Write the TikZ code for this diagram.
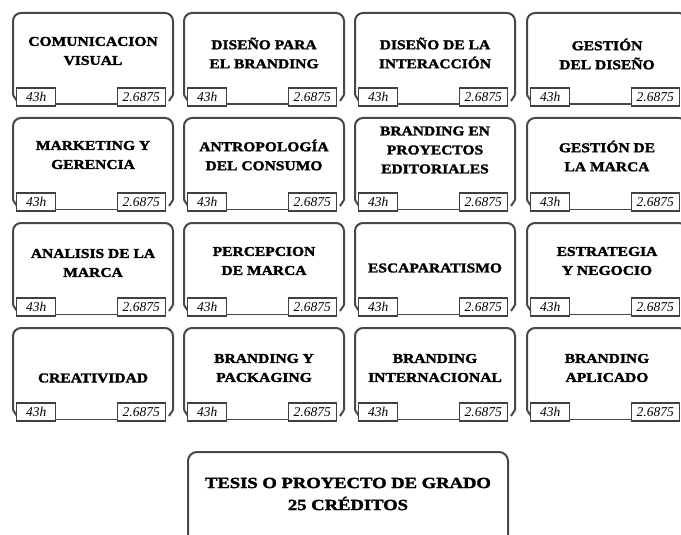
\documentclass[tikz,border=0pt]{standalone}
\usepackage{fontspec}
\setmainfont{Liberation Serif}
\newfontfamily\titlefont[FakeStretch=1.15,FakeBold=2]{Liberation Serif}
\newfontfamily\tesisfont[FakeStretch=1.2,FakeBold=2]{Liberation Serif}
\tikzset{
  outline/.style={draw=black!72,line width=2pt},
  bline/.style={draw=black!72,line width=1.4pt},
  smallbox/.style={draw=black!75,line width=1.4pt,fill=white,inner sep=0pt,
    minimum height=18pt,font=\fontsize{13.5}{13.5}\selectfont\itshape},
  hbox/.style={smallbox,minimum width=39pt,anchor=west},
  cbox/.style={smallbox,minimum width=48pt,anchor=east},
  title/.style={align=center,inner sep=0pt,
    font=\titlefont\bfseries\fontsize{13.5}{19}\selectfont},
}
\newcommand\course[5]{%
  \draw[outline,rounded corners=8pt] ({#1},{#2+82}) -- ({#1},{#2}) -- ({#1+160},{#2}) -- ({#1+160},{#2+82});
  \draw[outline] ({#1},{#2+82}) -- ({#1+4},{#2+88});
  \draw[outline] ({#1+160},{#2+82}) -- ({#1+156},{#2+88});
  \node[hbox] (#3h) at ({#1+3},{#2+84}) {43h};
  \node[cbox] (#3c) at ({#1+153},{#2+84}) {2.6875};
  \draw[bline] ([yshift=2.5pt]#3h.south east) -- ([yshift=2.5pt]#3c.south west);
  \node[title] (#3) at ({#1+80},{#2+#5}) {#4};
}
\begin{document}
\begin{tikzpicture}[x=1pt,y=-1pt]
\useasboundingbox (0,0) rectangle (681,535);
\begin{scope}
\clip (0,0) rectangle (681,535);
% row 1
\course{13}{13}{a1}{COMUNICACION\\VISUAL}{38}
\course{184}{13}{a2}{DISEÑO PARA\\EL BRANDING}{40}
\course{355}{13}{a3}{DISEÑO DE LA\\INTERACCIÓN}{40}
\course{527}{13}{a4}{GESTIÓN\\DEL DISEÑO}{41}
% row 2
\course{13}{118}{b1}{MARKETING Y\\GERENCIA}{37}
\course{184}{118}{b2}{ANTROPOLOGÍA\\DEL CONSUMO}{37}
\course{355}{118}{b3}{BRANDING EN\\PROYECTOS\\EDITORIALES}{32}
\course{527}{118}{b4}{GESTIÓN DE\\LA MARCA}{38}
% row 3
\course{13}{223}{c1}{ANALISIS DE LA\\MARCA}{40}
\course{184}{223}{c2}{PERCEPCION\\DE MARCA}{38}
\course{355}{223}{c3}{ESCAPARATISMO}{45}
\course{527}{223}{c4}{ESTRATEGIA\\Y NEGOCIO}{38}
% row 4
\course{13}{328}{d1}{CREATIVIDAD}{50}
\course{184}{328}{d2}{BRANDING Y\\PACKAGING}{40}
\course{355}{328}{d3}{BRANDING\\INTERNACIONAL}{40}
\course{527}{328}{d4}{BRANDING\\APLICADO}{40}
% tesis
\draw[outline,rounded corners=9pt] (188,545) -- (188,452) -- (508,452) -- (508,545);
\node[title,font=\tesisfont\bfseries\fontsize{15.5}{22}\selectfont] (tesis) at (348,494) {TESIS O PROYECTO DE GRADO\\25 CRÉDITOS};
\end{scope}
\end{tikzpicture}
\end{document}
